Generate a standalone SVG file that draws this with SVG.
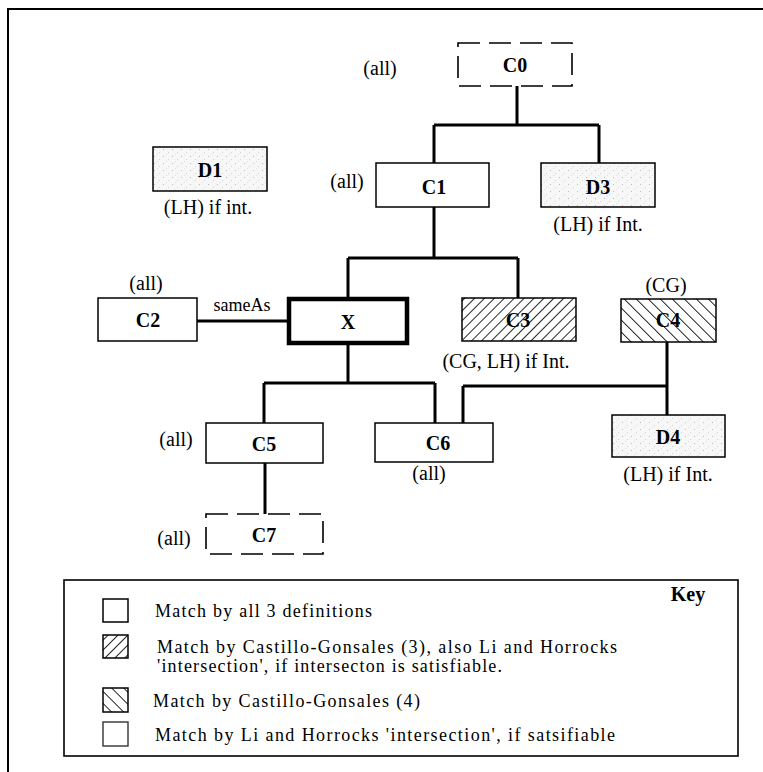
<svg xmlns="http://www.w3.org/2000/svg" width="763" height="772" viewBox="0 0 763 772">
<defs>
<pattern id="stip" width="9" height="7" patternUnits="userSpaceOnUse"><rect width="9" height="7" fill="#f7f7f7"/><rect x="1" y="2" width="1" height="1" fill="#bcbcbc"/><rect x="6" y="5" width="1" height="1" fill="#d4d4d4"/><rect x="4" y="0" width="1" height="1" fill="#e0e0e0"/></pattern>
<pattern id="hatchF" width="7" height="7" patternUnits="userSpaceOnUse" patternTransform="rotate(45)"><rect width="7" height="7" fill="#fff"/><line x1="0" y1="0" x2="0" y2="7" stroke="#000" stroke-width="1.7"/></pattern>
<pattern id="hatchB" width="8.5" height="8.5" patternUnits="userSpaceOnUse" patternTransform="rotate(-45)"><rect width="8.5" height="8.5" fill="#fff"/><line x1="0" y1="0" x2="0" y2="8.5" stroke="#000" stroke-width="1.7"/></pattern>
</defs>
<style>
.box{fill:#fff;stroke:#000;stroke-width:1.5}
.dash{fill:#fff;stroke:#000;stroke-width:1.6;stroke-dasharray:22 9}
.stip{fill:url(#stip);stroke:#000;stroke-width:1.5}
.hf{fill:url(#hatchF);stroke:#000;stroke-width:1.5}
.hb{fill:url(#hatchB);stroke:#000;stroke-width:1.5}
.lbl{font-family:"Liberation Serif","Times New Roman",serif;font-weight:bold;font-size:20px;text-anchor:middle;fill:#000}
.ann{font-family:"Liberation Serif","Times New Roman",serif;font-size:20px;text-anchor:middle;fill:#000}
.key{font-family:"Liberation Serif","Times New Roman",serif;font-size:18px;fill:#000}
.conn{stroke:#000;stroke-width:3;fill:none}
</style>
<rect width="763" height="772" fill="#fff"/>
<g id="frame" stroke="#000" stroke-width="2" fill="none"><path d="M8 772 V9 H763"/></g>

<g id="connectors" class="conn">
<path d="M517 86 V125 M434 125 H599 M434 125 V163 M599 125 V163"/>
<path d="M434 207 V258 M348 258 H518 M348 258 V299 M518 258 V298"/>
<path d="M197 321 H288"/>
<path d="M348 343 V383 M264 383 H435 M264 383 V423 M435 383 V423"/>
<path d="M667 342 V415 M463 386 H667 M463 386 V423"/>
<path d="M265 463 V514"/>
</g>
<text class="ann" x="242" y="311" style="font-size:18px">sameAs</text>

<g id="C0"><rect class="dash" x="458" y="43" width="114" height="43"/><text class="lbl" x="515" y="72">C0</text><text class="ann" x="380" y="75">(all)</text></g>
<g id="D1"><rect class="stip" x="153" y="147" width="114" height="44"/><text class="lbl" x="210" y="177">D1</text><text class="ann" x="208" y="214">(LH) if int.</text></g>
<g id="C1"><rect class="box" x="376" y="163" width="113" height="44"/><text class="lbl" x="434" y="194">C1</text><text class="ann" x="347" y="188">(all)</text></g>
<g id="D3"><rect class="stip" x="541" y="163" width="114" height="44"/><text class="lbl" x="598" y="194">D3</text><text class="ann" x="598" y="231">(LH) if Int.</text></g>
<g id="C2"><rect class="box" x="98" y="298" width="99" height="43"/><text class="lbl" x="148" y="327">C2</text><text class="ann" x="146" y="290">(all)</text></g>
<g id="X"><rect x="289" y="299" width="118" height="44" fill="#fff" stroke="#000" stroke-width="4.5"/><text class="lbl" x="348" y="329">X</text></g>
<g id="C3"><rect class="hf" x="462" y="298" width="114" height="43"/><text class="lbl" x="518" y="327">C3</text><text class="ann" x="506" y="368">(CG, LH) if Int.</text></g>
<g id="C4"><rect class="hb" x="621" y="299" width="95" height="43"/><text class="lbl" x="668" y="327">C4</text><text class="ann" x="666" y="292">(CG)</text></g>
<g id="C5"><rect class="box" x="206" y="423" width="117" height="40"/><text class="lbl" x="264" y="451">C5</text><text class="ann" x="176" y="446">(all)</text></g>
<g id="C6"><rect class="box" x="375" y="423" width="118" height="39"/><text class="lbl" x="438" y="450">C6</text><text class="ann" x="429" y="480">(all)</text></g>
<g id="D4"><rect class="stip" x="612" y="415" width="113" height="42"/><text class="lbl" x="668" y="444">D4</text><text class="ann" x="668" y="481">(LH) if Int.</text></g>
<g id="C7"><rect class="dash" x="206" y="514" width="117" height="40"/><text class="lbl" x="264" y="542">C7</text><text class="ann" x="174" y="545">(all)</text></g>

<g id="key">
<rect x="64" y="580" width="674" height="176" fill="#fff" stroke="#000" stroke-width="1.6"/>
<text class="lbl" x="688" y="601">Key</text>
<rect class="box" x="103" y="599" width="25" height="23"/>
<text class="key" x="155" y="617" textLength="217" lengthAdjust="spacing">Match by all 3 definitions</text>
<rect class="hf" x="103" y="635" width="25" height="23"/>
<text class="key" x="157" y="653" textLength="460" lengthAdjust="spacing">Match by Castillo-Gonsales (3), also Li and Horrocks</text>
<text class="key" x="157" y="672" textLength="345" lengthAdjust="spacing">'intersection', if intersecton is satisfiable.</text>
<rect class="hb" x="103" y="688" width="25" height="24"/>
<text class="key" x="153" y="707" textLength="267" lengthAdjust="spacing">Match by Castillo-Gonsales (4)</text>
<rect x="103" y="722" width="25" height="24" fill="#fff" stroke="#333" stroke-width="1.4"/>
<text class="key" x="155" y="741" textLength="460" lengthAdjust="spacing">Match by Li and Horrocks 'intersection', if satsifiable</text>
</g>
</svg>
